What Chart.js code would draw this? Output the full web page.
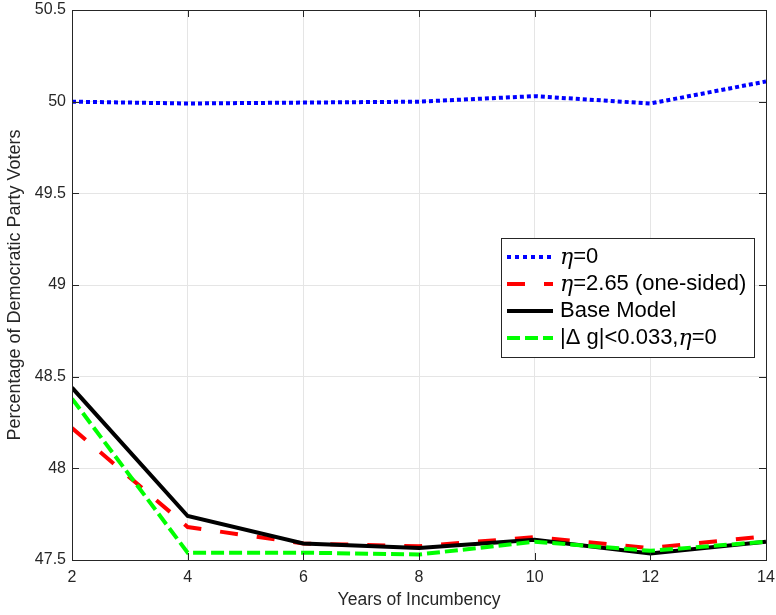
<!DOCTYPE html>
<html lang="en">
<head>
    <meta charset="UTF-8">
    <title>Democratic Party Voters</title>
    <script src="https://cdn.jsdelivr.net/npm/chart.js"></script>
    <style>
        body { margin: 0; background: #fff; }
        canvas { display: block; }
    </style>
</head>
<body>
    <canvas id="chart" width="776" height="615"></canvas>

    <script>
        // Data
        const years = [2, 4, 6, 8, 10, 12, 14];
        const etaZero = [50.0, 49.99, 49.995, 50.0, 50.03, 49.99, 50.11];
        const etaOneSided = [48.22, 47.68, 47.59, 47.575, 47.625, 47.565, 47.63];
        const baseModel = [48.44, 47.74, 47.59, 47.565, 47.61, 47.535, 47.6];
        const deltaG = [48.38, 47.54, 47.54, 47.53, 47.6, 47.55, 47.6];
        const xTicks = [2, 4, 6, 8, 10, 12, 14];
        const yTicks = [47.5, 48, 48.5, 49, 49.5, 50, 50.5];

        const legendItems = [
            { pre: '', eta: true, post: '=0', color: '#0000ff', dash: [4, 4] },
            { pre: '', eta: true, post: '=2.65 (one-sided)', color: '#ff0000', dash: [18, 19] },
            { pre: 'Base Model', eta: false, post: '', color: '#000000', dash: [] },
            { pre: '|\u0394 g|<0.033,', eta: true, post: '=0', color: '#00ff00', dash: [13, 5] }
        ];

        const FONT = '"Liberation Sans", Arial, sans-serif';

        // MATLAB-like box, inward ticks and legend
        const boxPlugin = {
            id: 'box',
            afterDraw(chart) {
                const { ctx, chartArea: a, scales } = chart;
                ctx.save();
                ctx.strokeStyle = '#262626';
                ctx.lineWidth = 1;
                ctx.strokeRect(a.left + 0.5, a.top + 0.5, a.right - a.left, a.bottom - a.top);
                ctx.beginPath();
                yTicks.forEach(v => {
                    const y = Math.round(scales.y.getPixelForValue(v)) + 0.5;
                    ctx.moveTo(a.left, y); ctx.lineTo(a.left + 7, y);
                    ctx.moveTo(a.right, y); ctx.lineTo(a.right - 7, y);
                });
                xTicks.forEach(v => {
                    const x = Math.round(scales.x.getPixelForValue(v)) + 0.5;
                    ctx.moveTo(x, a.bottom); ctx.lineTo(x, a.bottom - 7);
                    ctx.moveTo(x, a.top); ctx.lineTo(x, a.top + 7);
                });
                ctx.stroke();

                // legend
                const lx = 501, ly = 238, lw = 253, lh = 119;
                ctx.fillStyle = '#fff';
                ctx.fillRect(lx, ly, lw, lh);
                ctx.strokeStyle = '#262626';
                ctx.strokeRect(lx + 0.5, ly + 0.5, lw, lh);
                legendItems.forEach((it, i) => {
                    const y = ly + 19 + i * 27;
                    ctx.beginPath();
                    ctx.setLineDash(it.dash);
                    ctx.strokeStyle = it.color;
                    ctx.lineWidth = 4;
                    ctx.moveTo(507, y);
                    ctx.lineTo(553, y);
                    ctx.stroke();
                    ctx.setLineDash([]);
                    ctx.fillStyle = '#000';
                    ctx.textBaseline = 'middle';
                    let x = 560;
                    if (it.pre) {
                        ctx.font = '22px ' + FONT;
                        ctx.fillText(it.pre, x, y);
                        x += ctx.measureText(it.pre).width;
                    }
                    if (it.eta) {
                        ctx.font = 'italic 22px "DejaVu Serif", serif';
                        ctx.fillText('\u03B7', x, y + 1);
                        x += ctx.measureText('\u03B7').width;
                    }
                    if (it.post) {
                        ctx.font = '22px ' + FONT;
                        ctx.fillText(it.post, x, y);
                    }
                });
                ctx.restore();
            }
        };

        function series(values, color, dash, order) {
            return {
                data: values.map((v, i) => ({ x: years[i], y: v })),
                borderColor: color,
                borderWidth: 4,
                borderDash: dash,
                pointRadius: 0,
                fill: false,
                tension: 0,
                order: order
            };
        }

        new Chart(document.getElementById('chart'), {
            type: 'line',
            data: {
                datasets: [
                    series(etaZero, '#0000ff', [4, 3], 3),
                    series(etaOneSided, '#ff0000', [18, 19], 2),
                    series(baseModel, '#000000', [], 1),
                    series(deltaG, '#00ff00', [13, 5], 0)
                ]
            },
            options: {
                responsive: false,
                animation: false,
                layout: { padding: { top: 10, right: 10, left: 0, bottom: 0 } },
                plugins: { legend: { display: false }, tooltip: { enabled: false } },
                scales: {
                    x: {
                        type: 'linear',
                        min: 2, max: 14,
                        afterBuildTicks: s => { s.ticks = xTicks.map(v => ({ value: v })); },
                        afterFit: s => { s.height = 55; s.paddingLeft = 0; s.paddingRight = 0; },
                        grid: { color: '#e5e5e5', drawTicks: false },
                        border: { display: false },
                        ticks: { color: '#262626', font: { family: FONT, size: 16 }, padding: 8, maxRotation: 0 },
                        title: { display: true, text: 'Years of Incumbency', color: '#262626', font: { family: FONT, size: 17.5 }, padding: { top: 0 } }
                    },
                    y: {
                        min: 47.5, max: 50.5,
                        afterBuildTicks: s => { s.ticks = yTicks.map(v => ({ value: v })); },
                        afterFit: s => { s.width = 72; s.paddingTop = 0; s.paddingBottom = 0; },
                        grid: { color: '#e5e5e5', drawTicks: false },
                        border: { display: false },
                        ticks: { color: '#262626', font: { family: FONT, size: 16 }, padding: 6, callback: v => String(v) },
                        title: { display: true, text: 'Percentage of Democratic Party Voters', color: '#262626', font: { family: FONT, size: 18 }, padding: { top: 4, bottom: 0 } }
                    }
                }
            },
            plugins: [boxPlugin]
        });
    </script>
</body>
</html>
